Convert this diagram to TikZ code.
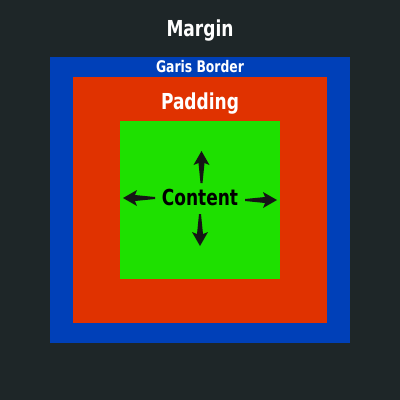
\documentclass[tikz,border=0pt]{standalone}
\usepackage{fontspec}
\newfontfamily\cf{DejaVu Sans Condensed}
\definecolor{bgcol}{HTML}{1E2628}
\definecolor{bordercol}{HTML}{0040B8}
\definecolor{padcol}{HTML}{E03200}
\definecolor{contcol}{HTML}{1EE000}
\definecolor{arrowcol}{HTML}{151515}
\newcommand{\narrow}[1]{\scalebox{0.86}[1]{#1}}
\tikzset{
  lbl/.style={text=white, inner sep=0pt, anchor=base},
  big/.style={font=\cf\bfseries\fontsize{22}{24}\selectfont},
  small/.style={font=\cf\bfseries\fontsize{16}{18}\selectfont},
  fatarrow/.pic={\fill[arrowcol] (0,0) -- (8,14) -- (3,12) -- (1,32) -- (-1,32) -- (-3,12) -- (-8,14) -- cycle;}
}
\begin{document}
\begin{tikzpicture}[x=1pt,y=-1pt]
\useasboundingbox (0,0) rectangle (400,400);
\fill[bgcol] (0,0) rectangle (400,400);
\fill[bordercol] (50,57) rectangle (350,343);
\fill[padcol] (73,77) rectangle (327,323);
\fill[contcol] (120,121) rectangle (280,279);
\node[lbl, big] (margin) at (200,36) {\narrow{Margin}};
\node[lbl, small] (border) at (200,72) {\narrow{Garis Border}};
\node[lbl, big] (padding) at (200,109) {\narrow{Padding}};
\node[lbl, big, text=black] (content) at (200,205.5) {\narrow{Content}};
\pic at (201.5,151) {fatarrow};
\pic[rotate=180] at (200,246) {fatarrow};
\pic[rotate=90] at (123,198) {fatarrow};
\pic[rotate=-90] at (277,200) {fatarrow};
\end{tikzpicture}
\end{document}
